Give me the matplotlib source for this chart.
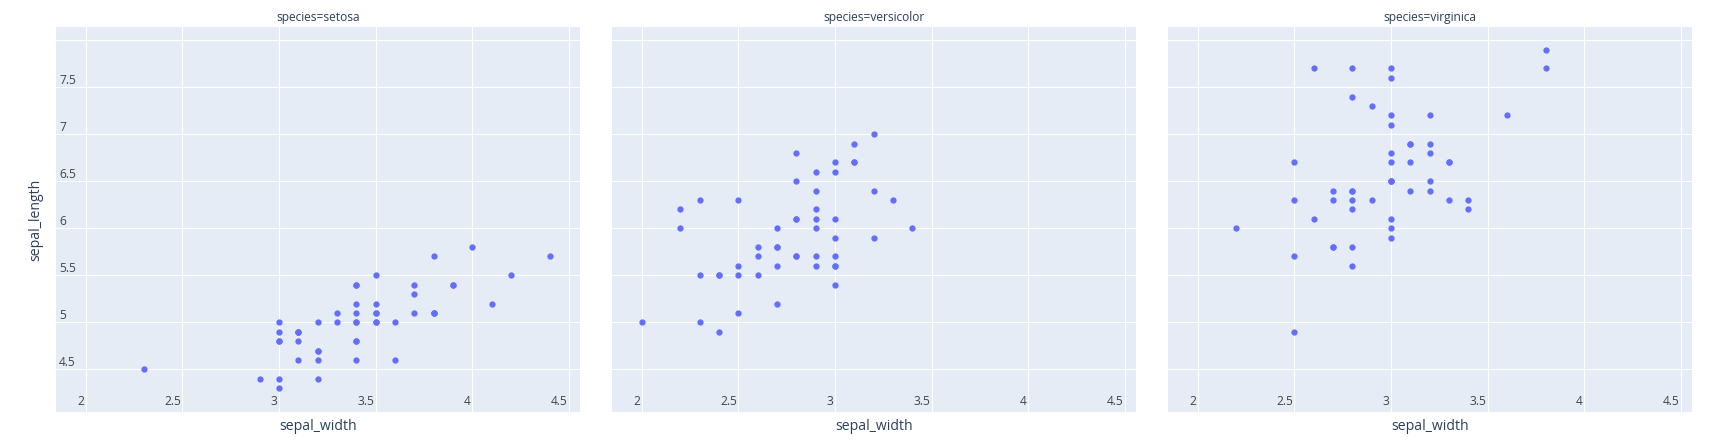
import matplotlib
matplotlib.use("Agg")
import matplotlib.pyplot as plt

# ── Data (iris: sepal_width vs sepal_length by species) ──────────
species = ["setosa", "versicolor", "virginica"]

setosa_width = [3.5, 3.0, 3.2, 3.1, 3.6, 3.9, 3.4, 3.4, 2.9, 3.1, 3.7, 3.4, 3.0, 3.0, 4.0, 4.4, 3.9,
                3.5, 3.8, 3.8, 3.4, 3.7, 3.6, 3.3, 3.4, 3.0, 3.4, 3.5, 3.4, 3.2, 3.1, 3.4, 4.1, 4.2,
                3.1, 3.2, 3.5, 3.1, 3.0, 3.4, 3.5, 2.3, 3.2, 3.5, 3.8, 3.0, 3.8, 3.2, 3.7, 3.3]
setosa_length = [5.1, 4.9, 4.7, 4.6, 5.0, 5.4, 4.6, 5.0, 4.4, 4.9, 5.4, 4.8, 4.8, 4.3, 5.8, 5.7, 5.4,
                 5.1, 5.7, 5.1, 5.4, 5.1, 4.6, 5.1, 4.8, 5.0, 5.0, 5.2, 5.2, 4.7, 4.8, 5.4, 5.2, 5.5,
                 4.9, 5.0, 5.5, 4.9, 4.4, 5.1, 5.0, 4.5, 4.4, 5.0, 5.1, 4.8, 5.1, 4.6, 5.3, 5.0]

versicolor_width = [3.2, 3.2, 3.1, 2.3, 2.8, 2.8, 3.3, 2.4, 2.9, 2.7, 2.0, 3.0, 2.2, 2.9, 2.9, 3.1, 3.0,
                    2.7, 2.2, 2.5, 3.2, 2.8, 2.5, 2.8, 2.9, 3.0, 2.8, 3.0, 2.9, 2.6, 2.4, 2.4, 2.7, 2.7,
                    3.0, 3.4, 3.1, 2.3, 3.0, 2.5, 2.6, 3.0, 2.6, 2.3, 2.7, 3.0, 2.9, 2.9, 2.5, 2.8]
versicolor_length = [7.0, 6.4, 6.9, 5.5, 6.5, 5.7, 6.3, 4.9, 6.6, 5.2, 5.0, 5.9, 6.0, 6.1, 5.6, 6.7, 5.6,
                     5.8, 6.2, 5.6, 5.9, 6.1, 6.3, 6.1, 6.4, 6.6, 6.8, 6.7, 6.0, 5.7, 5.5, 5.5, 5.8, 6.0,
                     5.4, 6.0, 6.7, 6.3, 5.6, 5.5, 5.5, 6.1, 5.8, 5.0, 5.6, 5.7, 5.7, 6.2, 5.1, 5.7]

virginica_width = [3.3, 2.7, 3.0, 2.9, 3.0, 3.0, 2.5, 2.9, 2.5, 3.6, 3.2, 2.7, 3.0, 2.5, 2.8, 3.2, 3.0,
                   3.8, 2.6, 2.2, 3.2, 2.8, 2.8, 2.7, 3.3, 3.2, 2.8, 3.0, 2.8, 3.0, 2.8, 3.8, 2.8, 2.8,
                   2.6, 3.0, 3.4, 3.1, 3.0, 3.1, 3.1, 3.1, 2.7, 3.2, 3.3, 3.0, 2.5, 3.0, 3.4, 3.0]
virginica_length = [6.3, 5.8, 7.1, 6.3, 6.5, 7.6, 4.9, 7.3, 6.7, 7.2, 6.5, 6.4, 6.8, 5.7, 5.8, 6.4, 6.5,
                    7.7, 7.7, 6.0, 6.9, 5.6, 7.7, 6.3, 6.7, 7.2, 6.2, 6.1, 6.4, 7.2, 7.4, 7.9, 6.4, 6.3,
                    6.1, 7.7, 6.3, 6.4, 6.0, 6.9, 6.7, 6.9, 5.8, 6.8, 6.7, 6.7, 6.3, 6.5, 6.2, 5.9]

widths = [setosa_width, versicolor_width, virginica_width]
lengths = [setosa_length, versicolor_length, virginica_length]

x_ticks = [2, 2.5, 3, 3.5, 4, 4.5]
x_tick_labels = ["2", "2.5", "3", "3.5", "4", "4.5"]
y_ticks = [4.5, 5, 5.5, 6, 6.5, 7, 7.5, 8]
y_tick_labels = ["4.5", "5", "5.5", "6", "6.5", "7", "7.5", ""]

# ── Style ────────────────────────────────────────────────────────
W, H = 1728, 448
PT = 0.72          # points per pixel at dpi 100
BG = '#E5ECF6'
FONT = '#2a3f5f'
TICK = '#444444'
MARK = '#636EFA'
plt.rcParams['font.family'] = ['Open Sans', 'DejaVu Sans']

fig = plt.figure(figsize=(W / 100, H / 100), dpi=100, facecolor='white')

panel_left = [56, 612, 1168]
panel_w = 524
panel_top, panel_bottom = 27, 412

for i, name in enumerate(species):
    left = panel_left[i]
    ax = fig.add_axes([left / W, (H - panel_bottom) / H,
                       panel_w / W, (panel_bottom - panel_top) / H])
    ax.set_facecolor(BG)
    for s in ax.spines.values():
        s.set_visible(False)
    ax.set_xlim(1.846, 4.557)
    ax.set_ylim(4.046, 8.141)
    ax.set_xticks(x_ticks)
    ax.set_yticks(y_ticks)
    ax.tick_params(length=0, labelbottom=False, labelleft=False)
    ax.grid(True, color='white', linewidth=1 * PT)
    ax.set_axisbelow(True)

    ax.scatter(widths[i], lengths[i], s=(6.3 * PT) ** 2, color=MARK,
               linewidths=0, zorder=3)

    # tick labels sit inside the plot area
    for t, lab in zip(x_ticks, x_tick_labels):
        ax.annotate(lab, xy=(t, 0), xycoords=ax.get_xaxis_transform(),
                    xytext=(-1.5 * PT, 7 * PT), textcoords='offset points',
                    ha='right', va='baseline', fontsize=12 * PT, color=TICK)
    if i == 0:
        for t, lab in zip(y_ticks, y_tick_labels):
            if lab:
                ax.annotate(lab, xy=(0, t), xycoords=ax.get_yaxis_transform(),
                            xytext=(3 * PT, 3.5 * PT), textcoords='offset points',
                            ha='left', va='baseline', fontsize=12 * PT, color=TICK)

    cx = (left + panel_w / 2) / W
    fig.text(cx, 1 - 17.5 / H, f'species={name}', ha='center', va='center',
             fontsize=12 * PT, color=FONT)
    fig.text(cx, 1 - 426 / H, 'sepal_width', ha='center', va='center',
             fontsize=14 * PT, color=FONT)

fig.text(36 / W, 1 - (panel_top + panel_bottom) / 2 / H, 'sepal_length',
         rotation=90, ha='center', va='center', fontsize=14 * PT, color=FONT)

fig.savefig('out.png', dpi=100, facecolor='white')
